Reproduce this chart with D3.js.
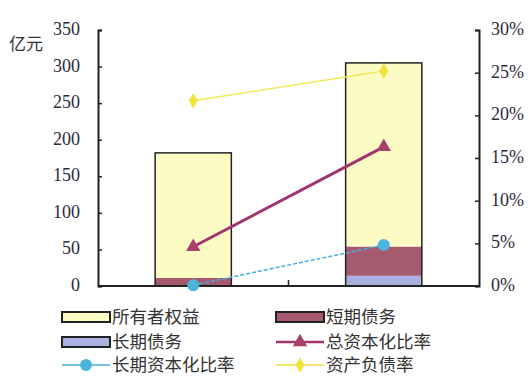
<!DOCTYPE html>
<html>
<head>
<meta charset="UTF-8" />
<script src="https://d3js.org/d3.v7.min.js"></script>
<style>
body { margin: 0px; background: #fff; }
svg { display: block; }
</style>
</head>
<body>
<svg id="chart" width="532" height="376"></svg>
<script>
// data
const years = ["2001", "2002"];
const equity = [171, 251];        // 所有者权益
const shortDebt = [11, 40];       // 短期债务
const longDebt = [0, 14];         // 长期债务
const totalCapRatio = [4.6, 16.3];   // 总资本化比率 (%)
const longCapRatio = [0.1, 4.8];     // 长期资本化比率 (%)
const debtRatio = [21.7, 25.2];      // 资产负债率 (%)
const leftTicks = [0, 50, 100, 150, 200, 250, 300, 350];
const rightTicks = [0, 5, 10, 15, 20, 25, 30];

const svg = d3.select("#chart");
const plotL = 98, plotR = 479, plotT = 30, plotB = 286;

const x = d3.scaleBand().domain(years).range([plotL, plotR])
    .paddingInner(0.6).paddingOuter(0.3);
const y = d3.scaleLinear().domain([0, 350]).range([plotB, plotT]);
const y2 = d3.scaleLinear().domain([0, 30]).range([plotB, plotT]);

// stacked bars
const stackData = years.map((yr, i) => ({year: yr, long: longDebt[i], short: shortDebt[i], equity: equity[i]}));
const keys = ["long", "short", "equity"];
const fills = {long: "#aab0e0", short: "#a65a70", equity: "#fdfbc4"};
const series = d3.stack().keys(keys)(stackData);

svg.append("g").selectAll("g").data(series).enter().append("g")
    .attr("fill", d => fills[d.key])
    .selectAll("rect").data(d => d).enter().append("rect")
    .attr("x", d => x(d.data.year))
    .attr("y", d => y(d[1]))
    .attr("width", x.bandwidth())
    .attr("height", d => y(d[0]) - y(d[1]));

// outline around the whole bar
svg.append("g").selectAll("rect").data(stackData).enter().append("rect")
    .attr("x", d => x(d.year))
    .attr("y", d => y(d.long + d.short + d.equity))
    .attr("width", x.bandwidth())
    .attr("height", d => plotB - y(d.long + d.short + d.equity))
    .attr("fill", "none")
    .attr("stroke", "#222")
    .attr("stroke-width", 1.5);

// axes
const axL = svg.append("g").attr("transform", `translate(${plotL},0)`)
    .call(d3.axisRight(y).tickValues(leftTicks).tickSize(4).tickFormat(""));
const axR = svg.append("g").attr("transform", `translate(${plotR},0)`)
    .call(d3.axisLeft(y2).tickValues(rightTicks).tickSize(4).tickFormat(""));
[axL, axR].forEach(a => {
    a.select(".domain").attr("stroke", "#222").attr("stroke-width", 2);
    a.selectAll(".tick line").attr("stroke", "#222").attr("stroke-width", 1.5);
});
svg.append("line").attr("x1", plotL).attr("x2", plotR).attr("y1", plotB).attr("y2", plotB)
    .attr("stroke", "#222").attr("stroke-width", 2);
// mid category tick
const midX = (x(years[0]) + x(years[1]) + x.bandwidth()) / 2;
svg.append("line")
    .attr("x1", midX).attr("x2", midX)
    .attr("y1", plotB).attr("y2", plotB - 6)
    .attr("stroke", "#222").attr("stroke-width", 1.5);

svg.selectAll("text.yl").data(leftTicks).enter().append("text")
    .attr("x", 80).attr("y", d => y(d) + 5)
    .attr("text-anchor", "end")
    .attr("font-family", "Liberation Serif").attr("font-size", 18)
    .attr("fill", "#2a2a3a")
    .text(d => d);
svg.selectAll("text.yr").data(rightTicks).enter().append("text")
    .attr("x", 491).attr("y", d => y2(d) + 5)
    .attr("font-family", "Liberation Serif").attr("font-size", 18)
    .attr("fill", "#2a2a3a")
    .text(d => d + "%");
svg.append("text").attr("x", 9).attr("y", 50)
    .attr("font-family", "Noto Sans CJK SC").attr("font-size", 17)
    .attr("fill", "#333").text("亿元");

// lines
const cx = i => x(years[i]) + x.bandwidth() / 2;
const line = d3.line().x((d, i) => cx(i)).y(d => y2(d));

svg.append("path").datum(debtRatio).attr("d", line)
    .attr("fill", "none").attr("stroke", "#f3e85a").attr("stroke-width", 1.5);
svg.append("path").datum(totalCapRatio).attr("d", line)
    .attr("fill", "none").attr("stroke", "#a2336e").attr("stroke-width", 3);
svg.append("path").datum(longCapRatio).attr("d", line)
    .attr("fill", "none").attr("stroke", "#45b0dc").attr("stroke-width", 1.5)
    .attr("stroke-dasharray", "4,2");

const diamond = d3.symbol().type(d3.symbolDiamond).size(70);
const tri = d3.symbol().type(d3.symbolTriangle).size(90);
svg.selectAll("path.dm").data(debtRatio).enter().append("path")
    .attr("d", diamond).attr("transform", (d, i) => `translate(${cx(i)},${y2(d)})`)
    .attr("fill", "#f2e23c");
svg.selectAll("path.tr").data(totalCapRatio).enter().append("path")
    .attr("d", tri).attr("transform", (d, i) => `translate(${cx(i)},${y2(d)})`)
    .attr("fill", "#a8406e");
svg.selectAll("circle.lc").data(longCapRatio).enter().append("circle")
    .attr("cx", (d, i) => cx(i)).attr("cy", d => y2(d)).attr("r", 6)
    .attr("fill", "#4bb4dc");

// legend
const legend = [
    {name: "所有者权益", type: "rect", fill: fills.equity, col: 0, row: 0},
    {name: "短期债务", type: "rect", fill: fills.short, col: 1, row: 0},
    {name: "长期债务", type: "rect", fill: fills.long, col: 0, row: 1},
    {name: "总资本化比率", type: "tri", color: "#a2336e", col: 1, row: 1},
    {name: "长期资本化比率", type: "circle", color: "#45b0dc", col: 0, row: 2},
    {name: "资产负债率", type: "diamond", color: "#f2e23c", col: 1, row: 2}
];
const colX = [62, 276], rowY = [317, 342, 365];
const lg = svg.append("g").selectAll("g").data(legend).enter().append("g")
    .attr("transform", d => `translate(${colX[d.col]},${rowY[d.row]})`);
lg.each(function(d) {
    const g = d3.select(this);
    if (d.type === "rect") {
        g.append("rect").attr("x", 0).attr("y", -5).attr("width", 48).attr("height", 10)
            .attr("fill", d.fill).attr("stroke", "#222").attr("stroke-width", 2);
    } else {
        g.append("line").attr("x1", 0).attr("x2", 48).attr("y1", 0).attr("y2", 0)
            .attr("stroke", d.color).attr("stroke-width", d.type === "tri" ? 2.5 : 1.5);
        if (d.type === "tri") g.append("path").attr("d", tri).attr("transform", "translate(24,0)").attr("fill", "#a8406e");
        if (d.type === "circle") g.append("circle").attr("cx", 24).attr("r", 6).attr("fill", "#4bb4dc");
        if (d.type === "diamond") g.append("path").attr("d", diamond).attr("transform", "translate(24,0)").attr("fill", d.color);
    }
    g.append("text").attr("x", 50).attr("y", 6)
        .attr("font-family", "Noto Sans CJK SC").attr("font-size", 17.5)
        .attr("fill", "#333").text(d.name);
});
</script>
</body>
</html>
